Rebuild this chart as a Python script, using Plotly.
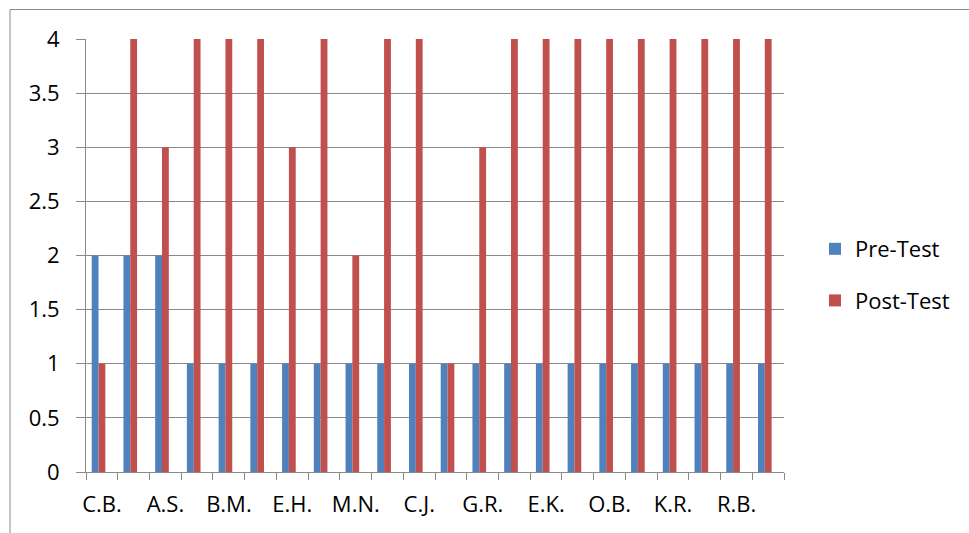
import plotly.graph_objects as go

# Scores per student (22 students, every second name shown on the axis)
tick_labels = ["C.B.", "A.S.", "B.M.", "E.H.", "M.N.", "C.J.", "G.R.", "E.K.", "O.B.", "K.R.", "R.B."]
pre_test = [2, 2, 2, 1, 1, 1, 1, 1, 1, 1, 1, 1, 1, 1, 1, 1, 1, 1, 1, 1, 1, 1]
post_test = [1, 4, 3, 4, 4, 4, 3, 4, 2, 4, 4, 1, 3, 4, 4, 4, 4, 4, 4, 4, 4, 4]
y_ticks = [0, 0.5, 1, 1.5, 2, 2.5, 3, 3.5, 4]

students = list(range(len(pre_test)))
n = len(students)
# tick marks sit on the boundaries between students; each name is attached
# to the left boundary of its student and shifted half a slot to the right
boundaries = [i - 0.5 for i in range(n + 1)]
boundary_text = [""] * (n + 1)
for k, name in enumerate(tick_labels):
    boundary_text[2 * k] = name
x_range = [-0.5, n - 0.5]

W, H = 969, 533
ML, MR, MT, MB = 86, 185, 39, 61
GRID = "#898989"
FONT = dict(family="Open Sans, Calibri, sans-serif", size=22, color="#000000")

fig = go.Figure()
fig.add_trace(go.Bar(
    x=students, y=pre_test, name="Pre-Test", legendgroup="pre",
    marker=dict(color="#4F81BD", line=dict(width=0)),
    width=0.215, offset=-0.32,
))
fig.add_trace(go.Bar(
    x=students, y=post_test, name="Post-Test", legendgroup="post",
    marker=dict(color="#C0504D", line=dict(width=0)),
    width=0.215, offset=-0.105,
))

# pixel helpers for the plot area
pw, ph = W - ML - MR, H - MT - MB
slot_px = pw / n
def px_x(px):
    return (px - ML) / pw
def px_y(py):
    return (H - MB - py) / ph

fig.update_layout(
    width=W, height=H,
    margin=dict(l=ML, r=MR, t=MT, b=MB),
    paper_bgcolor="white", plot_bgcolor="white",
    font=FONT,
    barmode="overlay",
    showlegend=True,
    legend=dict(
        x=px_x(815), y=px_y(275), xanchor="left", yanchor="middle",
        traceorder="grouped", tracegroupgap=20,
        font=FONT, bgcolor="rgba(0,0,0,0)",
    ),
    xaxis=dict(
        range=x_range,
        tickmode="array", tickvals=boundaries, ticktext=boundary_text,
        ticklabelshift=int(round(slot_px / 2)), ticklabelstandoff=6,
        ticks="outside", ticklen=7, tickcolor=GRID, tickwidth=1,
        showgrid=False, zeroline=False,
        showline=True, linecolor=GRID, linewidth=1,
    ),
    yaxis=dict(
        range=[0, 4],
        tickmode="array", tickvals=y_ticks,
        ticktext=[f"{v:g}" for v in y_ticks],
        ticks="outside", ticklen=9, tickcolor=GRID,
        showgrid=True, gridcolor=GRID, gridwidth=1,
        zeroline=False, showline=True, linecolor=GRID, linewidth=1,
        ticklabelstandoff=12,
    ),
    shapes=[dict(
        type="rect", xref="paper", yref="paper",
        x0=px_x(10), x1=px_x(990), y0=px_y(550), y1=px_y(9.5),
        line=dict(color=GRID, width=1), layer="below",
    )],
)

fig.write_html("out.html")
